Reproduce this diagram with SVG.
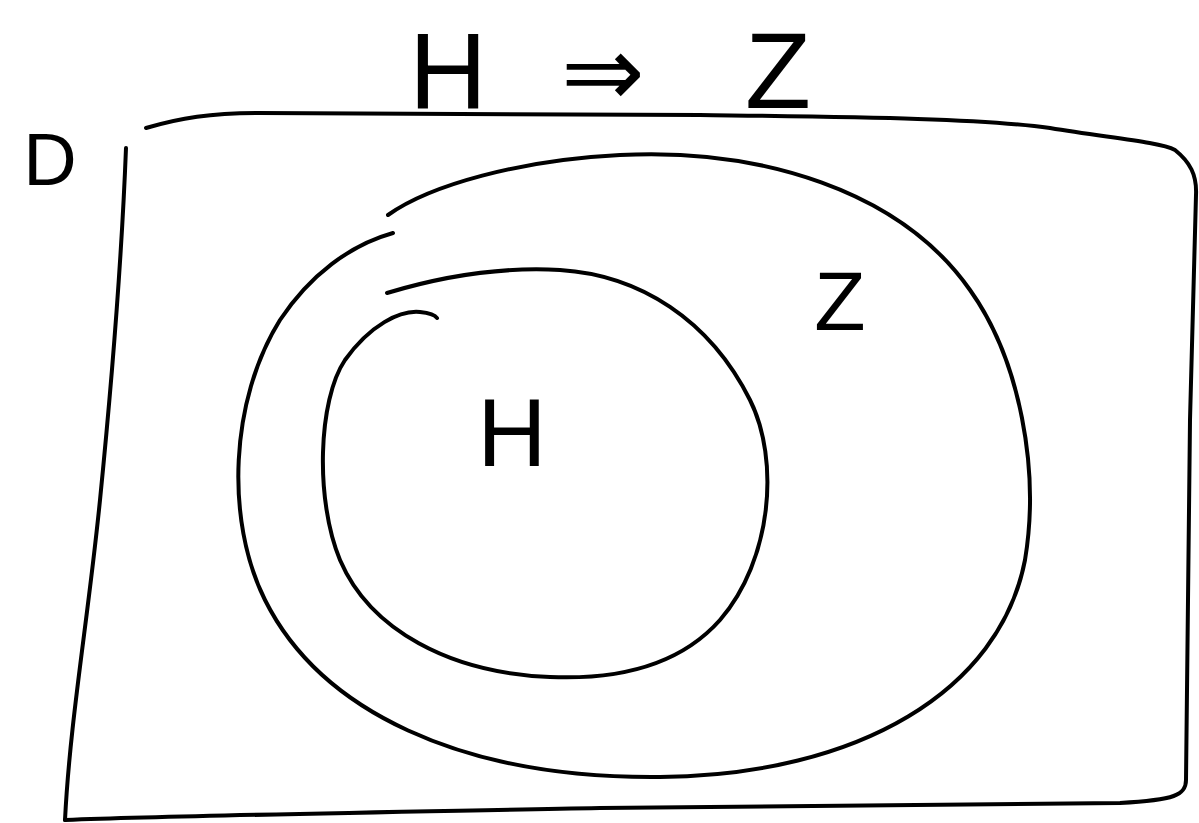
<svg xmlns="http://www.w3.org/2000/svg" width="1199" height="823" viewBox="0 0 1199 823">
<style>
.s{fill:none;stroke:#000;stroke-width:4;stroke-linecap:round;stroke-linejoin:round}
.t{font-family:"Liberation Sans",Arial,sans-serif;fill:#000}
</style>
<rect width="1199" height="823" fill="#fff"/>
<g id="title"><text class="t" y="108" font-size="108" text-anchor="middle"><tspan x="448">H</tspan><tspan x="603" font-size="100" font-family="DejaVu Sans, sans-serif" dy="-2">⇒</tspan><tspan x="778" dy="2">Z</tspan></text></g>
<g id="D">
<path class="s" d="M146,128 C180,118 210,113 260,113 L700,115 C850,117 980,118 1050,128 C1110,138 1160,142 1175,150 C1190,162 1197,175 1196,195 L1190,420 L1186,780 C1186,795 1175,800 1120,803 L600,808 C400,812 200,815 65,820"/>
<path class="s" d="M126,148 C122,250 112,380 100,500 C88,620 70,720 65,820"/>
<text class="t" x="50" y="185" font-size="74" text-anchor="middle">D</text>
</g>
<g id="Z">
<path class="s" d="M388,215 C430,185 520,160 620,155 C760,148 900,190 970,290 C1020,360 1040,470 1025,560 C1000,690 860,775 660,777 C460,779 320,710 265,600 C225,520 230,400 280,320 C310,275 350,245 393,233"/>
<text class="t" x="840" y="330" font-size="84" text-anchor="middle">Z</text>
</g>
<g id="H">
<path class="s" d="M387,293 C430,280 490,266 560,270 C640,275 710,320 750,400 C780,460 772,560 720,620 C680,665 620,680 550,677 C450,673 370,630 340,560 C315,500 318,400 345,360 C370,325 400,310 420,312 C430,313 435,315 437,318"/>
<text class="t" x="512" y="466" font-size="96" text-anchor="middle">H</text>
</g>
</svg>
